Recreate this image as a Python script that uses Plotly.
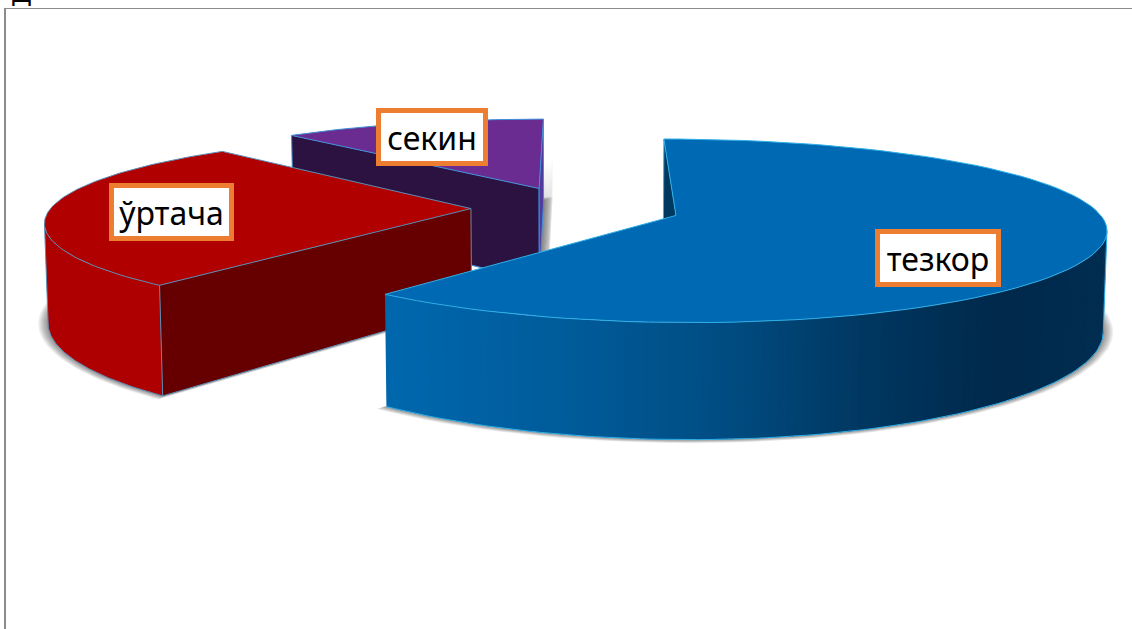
import numpy as np
import plotly.graph_objects as go

# Chart content
categories = ["тезкор", "ўртача", "секин"]
shares = [61.0, 27.2, 11.8]

# Pie styling, one entry per category
top_colors = ["#0069b3", "#b00000", "#6a2c91"]
side_colors = [None, "#ae0000", "#2b1240"]
start_wall_colors = ["#00395f", "#660000", "#2b1240"]
end_wall_colors = ["#00395f", "#660000", "#4f3a9e"]
edge_colors = ["#2fb0e8", "#5b8db5", "#3f8fd8"]
label_xy = [(938, 257.5), (171.5, 211.5), (432, 137)]
label_widths = [116, 115, 102]

# Pie geometry and camera
RADIUS = 1.0
EXPLODE = 0.25
THICKNESS = 0.238
ELEVATION = np.radians(11.9)
CAM_DIST_Y = 5.93
FOCAL_Y = 2495.0
CAM_DIST_X = 7.24
FOCAL_X = 3041.0
SCREEN_CX, SCREEN_CY = 576.0, 208.0
W, H = 1132, 629


def project(u, v, h):
    """Perspective projection of pie-space points to the pixel-sized axes."""
    s, c = np.sin(ELEVATION), np.cos(ELEVATION)
    x = SCREEN_CX + FOCAL_X * u / (CAM_DIST_X + v * c - h * s)
    y = SCREEN_CY - FOCAL_Y * (v * s + h * c) / (CAM_DIST_Y + v * c - h * s)
    return x, y


def rim(slice_geo, a0, a1, h, n=90):
    angles = np.radians(np.linspace(a0, a1, n))
    u = slice_geo["ou"] + RADIUS * np.sin(angles)
    v = slice_geo["ov"] + RADIUS * np.cos(angles)
    return project(u, v, h * np.ones_like(u))


def apex(slice_geo, h):
    return project(np.array([slice_geo["ou"]]), np.array([slice_geo["ov"]]), np.array([h]))


def polygon(px_parts):
    xs = np.concatenate([p[0] for p in px_parts])
    ys = np.concatenate([p[1] for p in px_parts])
    return xs, ys


def signed_area(xs, ys):
    return 0.5 * np.sum(xs * np.roll(ys, -1) - np.roll(xs, -1) * ys)


def wall(geo, angle):
    top = rim(geo, angle, angle, 0, 1)
    bottom = rim(geo, angle, angle, -THICKNESS, 1)
    return polygon([apex(geo, 0), top, bottom, apex(geo, -THICKNESS)])


def side_gradient(x):
    # Front rim of the large slice darkens from left to right
    stops_x = [385, 560, 720, 860, 1000, 1110]
    stops_c = [(0, 104, 174), (0, 92, 155), (0, 77, 131), (0, 56, 98), (0, 41, 75), (0, 46, 82)]
    rgb = [np.interp(x, stops_x, [c[i] for c in stops_c]) for i in range(3)]
    return "rgb(%d,%d,%d)" % tuple(rgb)


fig = go.Figure()


def fill(xs, ys, color, name, line=None):
    fig.add_trace(go.Scatter(
        x=xs, y=ys, mode="lines", fill="toself", fillcolor=color, name=name,
        line=dict(color=line or "rgba(0,0,0,0)", width=1 if line else 0),
        hoverinfo="skip", showlegend=False,
    ))


def stroke(xs, ys, color, name):
    fig.add_trace(go.Scatter(
        x=xs, y=ys, mode="lines", name=name, line=dict(color=color, width=1),
        hoverinfo="skip", showlegend=False,
    ))


# Turn the shares into clockwise angular spans starting from twelve o'clock
total = sum(shares)
edges = np.concatenate([[0], np.cumsum(shares)]) * 360.0 / total
slices = []
for i, name in enumerate(categories):
    a0, a1 = edges[i], edges[i + 1]
    mid = np.radians((a0 + a1) / 2)
    slices.append(dict(name=name, a0=a0, a1=a1,
                       ou=EXPLODE * np.sin(mid), ov=EXPLODE * np.cos(mid)))

# Soft drop shadows under the extruded slices
SHADOW_LAYERS = 8
for i, geo in enumerate(slices):
    base = polygon([apex(geo, -THICKNESS), rim(geo, geo["a0"], geo["a1"], -THICKNESS)])
    cx, cy = (base[0].min() + base[0].max()) / 2, (base[1].min() + base[1].max()) / 2
    half_w, half_h = np.ptp(base[0]) / 2, np.ptp(base[1]) / 2
    parts = [base]
    if i == len(slices) - 1:
        tip = rim(geo, geo["a1"], geo["a1"], -0.55 * THICKNESS, 1)
        near = apex(geo, -0.55 * THICKNESS)
        parts.append((np.concatenate([near[0], tip[0], base[0][-1:], base[0][:1]]),
                      np.concatenate([near[1], tip[1], base[1][-1:], base[1][:1]])))
    for k in range(SHADOW_LAYERS, 0, -1):
        for xs, ys in parts:
            grow = k / SHADOW_LAYERS
            sx = xs + (10 if i < 2 else 9) * grow * (xs - cx) / half_w
            sy = ys + 3.5 * grow * (ys - cy) / half_h
            fill(sx, sy, "rgba(0,0,0,0.06)", geo["name"] + " shadow")

# Slices are painted back to front
for i in [2, 1, 0]:
    geo = slices[i]
    a0, a1 = geo["a0"], geo["a1"]
    edge = edge_colors[i]

    # Silhouette points of the full circle bound the visible front of the rim
    full = np.linspace(0, 360, 721)
    fx, _ = rim(geo, 0, 360, 0, 721)
    right_angle, left_angle = full[np.argmax(fx)], full[np.argmin(fx)]
    front_start = max(a0, right_angle)
    front_end = min(a1, left_angle)

    # Outer rim
    if front_end > front_start:
        if side_colors[i] is None:
            for t0 in np.arange(front_start, front_end, 1.0):
                t1 = min(t0 + 1.0, front_end)
                tx, ty = rim(geo, max(t0 - 0.8, front_start), t1, 0, 3)
                bx, by = rim(geo, max(t0 - 0.8, front_start), t1, -THICKNESS, 3)
                fill(np.r_[tx, bx[::-1]], np.r_[ty, by[::-1]], side_gradient(tx.mean()), geo["name"] + " rim")
        else:
            tx, ty = rim(geo, front_start, front_end, 0)
            bx, by = rim(geo, front_start, front_end, -THICKNESS)
            fill(np.r_[tx, bx[::-1]], np.r_[ty, by[::-1]], side_colors[i], geo["name"] + " rim")

    # Flat cut faces that turn towards the camera
    for angle, color, sign in ((a0, start_wall_colors[i], -1), (a1, end_wall_colors[i], 1)):
        xs, ys = wall(geo, angle)
        if signed_area(xs, ys) * sign > 0:
            fill(xs, ys, color, geo["name"] + " wall")
            stroke(xs[1:3], ys[1:3], edge, geo["name"] + " edge")
            stroke(xs[[0, 3]], ys[[0, 3]], edge, geo["name"] + " edge")
            stroke(xs[2:4], ys[2:4], edge, geo["name"] + " edge")

    # Lower rim and silhouette verticals
    if front_end > front_start:
        bx, by = rim(geo, front_start, front_end, -THICKNESS)
        stroke(bx, by, edge, geo["name"] + " edge")
        for sil in (right_angle, left_angle):
            if a0 <= sil <= a1:
                px, py = rim(geo, sil, sil, 0, 1)
                qx, qy = rim(geo, sil, sil, -THICKNESS, 1)
                stroke(np.r_[px, qx], np.r_[py, qy], edge, geo["name"] + " edge")

    # Top face with its outline
    top = polygon([apex(geo, 0), rim(geo, a0, a1, 0), apex(geo, 0)])
    fill(top[0], top[1], top_colors[i], geo["name"] + " top", line=edge)

# Labels in orange-framed boxes
for name, (lx, ly), box_w in zip(categories, label_xy, label_widths):
    fig.add_annotation(
        x=lx, y=ly, text=name, showarrow=False, xanchor="center", yanchor="middle",
        width=box_w, height=48,
        bgcolor="#ffffff", bordercolor="#ed7d31", borderwidth=5, borderpad=0,
        font=dict(family="Noto Sans, sans-serif", size=32, color="#000000"),
    )

# Heading letter cut off by the top of the page
fig.add_annotation(
    x=10, y=5, text="Д", showarrow=False, xanchor="left", yanchor="bottom",
    yshift=-7, font=dict(family="Noto Sans, sans-serif", size=26, color="#000000"),
)

# Frame lines along the left and top
fig.add_shape(type="line", x0=5, x1=5, y0=8, y1=H, line=dict(color="#8c8c8c", width=2))
fig.add_shape(type="line", x0=5, x1=W, y0=8.5, y1=8.5, line=dict(color="#8c8c8c", width=1.2))

fig.update_xaxes(range=[0, W], visible=False, fixedrange=True)
fig.update_yaxes(range=[H, 0], visible=False, fixedrange=True)
fig.update_layout(
    width=W, height=H, margin=dict(l=0, r=0, t=0, b=0),
    paper_bgcolor="#ffffff", plot_bgcolor="#ffffff", showlegend=False,
)
fig.write_html("out.html", config=dict(displayModeBar=False))
